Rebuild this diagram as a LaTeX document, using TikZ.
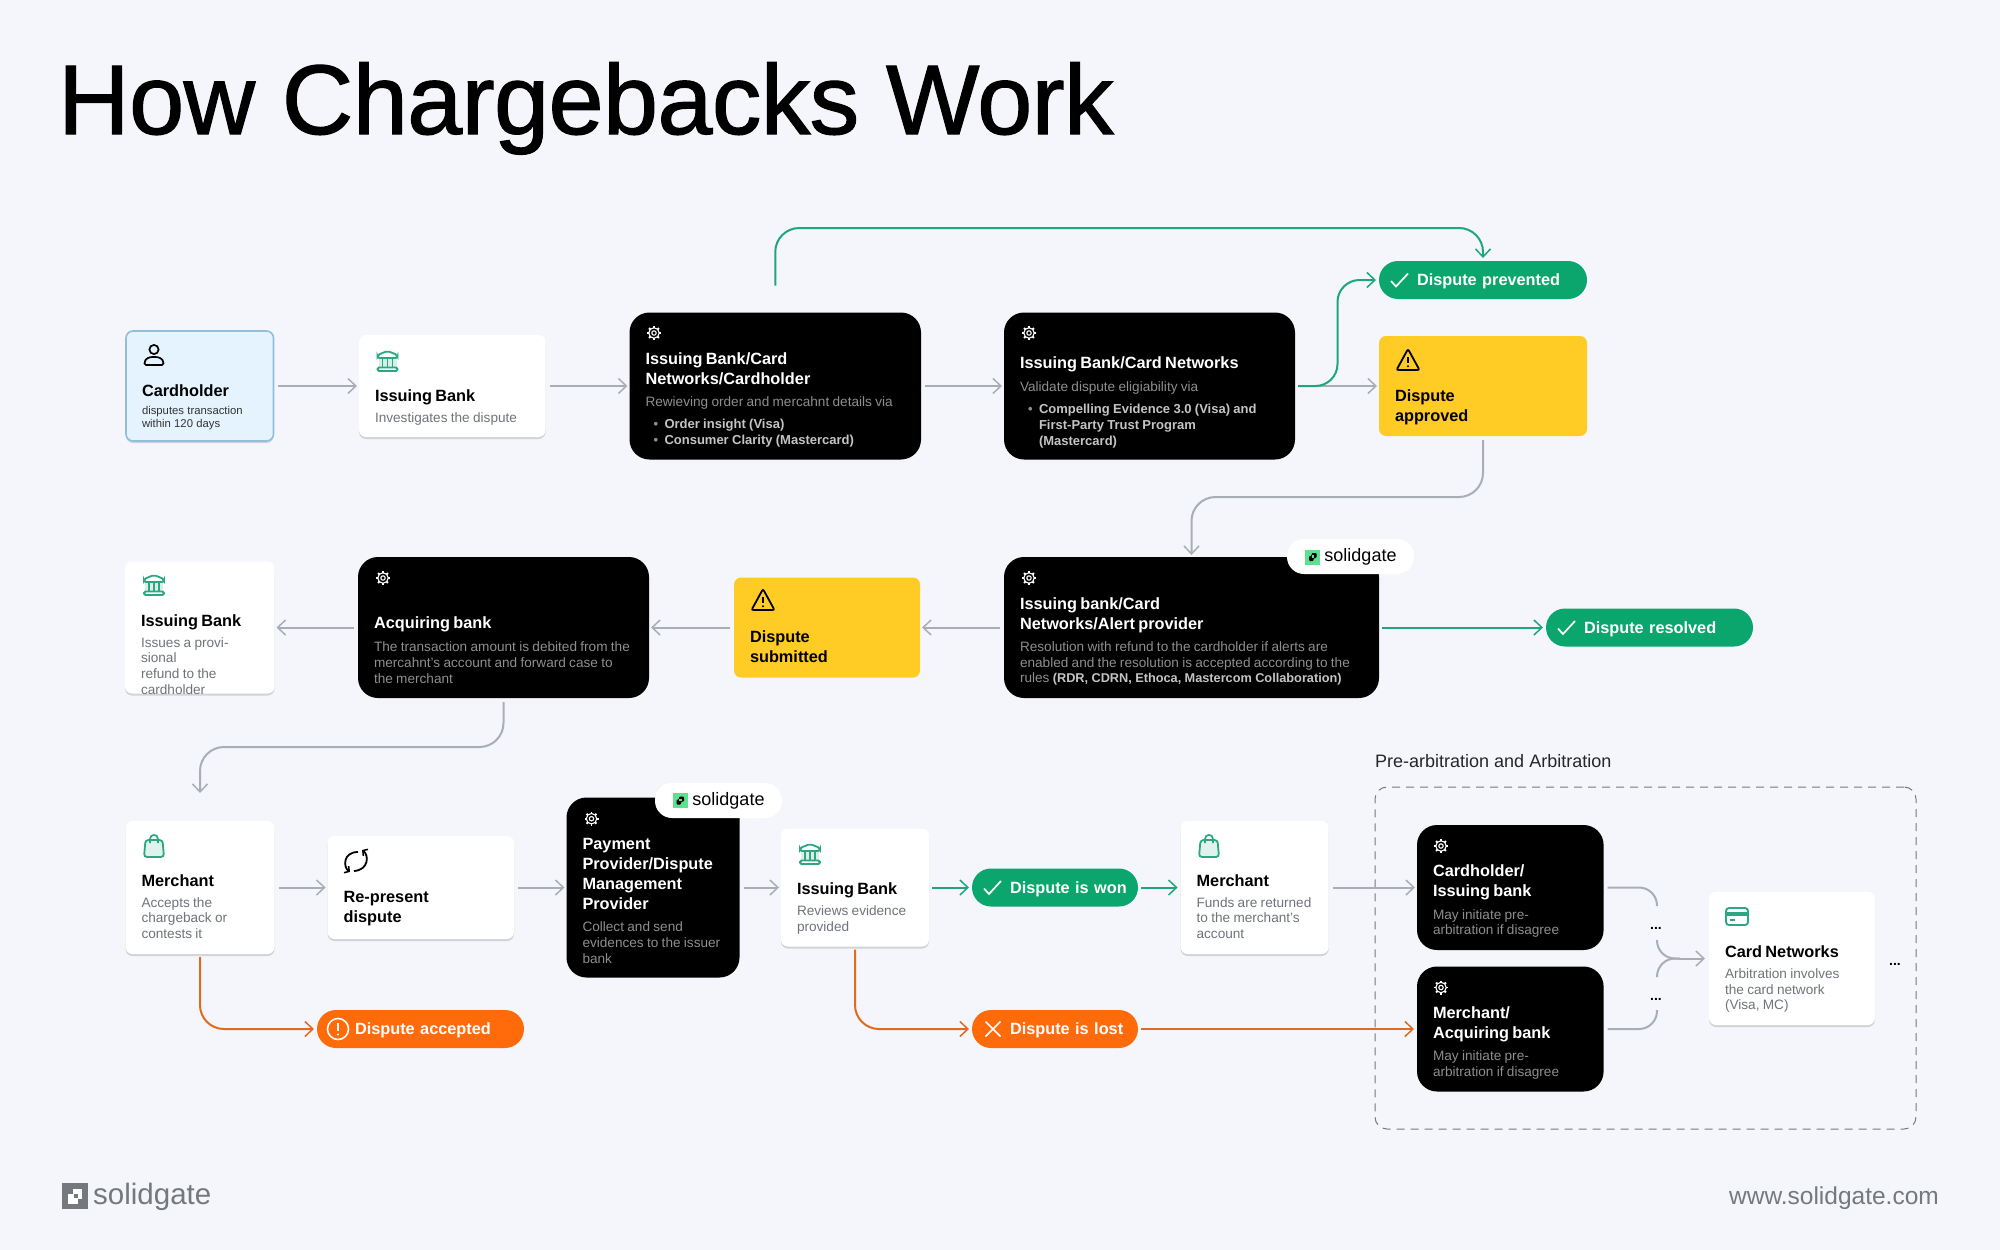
\documentclass[tikz,border=0pt]{standalone}
\usepackage{fontspec}
\setmainfont{Liberation Sans}
\newfontfamily\headfont[FakeBold=1.2,LetterSpace=-0.6]{Liberation Sans}
\usetikzlibrary{arrows.meta,shadows}

\definecolor{pagebg}{HTML}{F4F6FB}
\definecolor{linegray}{HTML}{A9AEB6}
\definecolor{linegreen}{HTML}{1FA67C}
\definecolor{lineorange}{HTML}{E26A1F}
\definecolor{pillgreen}{HTML}{0AA66E}
\definecolor{pillorange}{HTML}{FF6A0B}
\definecolor{warnyellow}{HTML}{FFCB25}
\definecolor{paleblue}{HTML}{E4F3FD}
\definecolor{edgeblue}{HTML}{93BEDA}
\definecolor{icongreen}{HTML}{2BA882}
\definecolor{logogreen}{HTML}{5FE08F}
\definecolor{footgray}{HTML}{75787D}
\definecolor{bullettext}{HTML}{C4C4C4}
\definecolor{descdark}{HTML}{6F747B}
\definecolor{desclight}{HTML}{8E8E8E}

\newcommand{\ttlfont}{\fontsize{16.3}{20}\selectfont\bfseries}
\newcommand{\descfont}{\fontsize{13.6}{15.6}\selectfont\mdseries\color{\desccolor}}
% first title baseline below the top, extra gap before the description
\newcommand{\cardtext}[4]{\vbox to \cardh pt{\kern\dimexpr #1pt-20pt\relax\hbox{}\ttlfont #3\par\kern #2pt\relax\descfont #4\par\vss}}
\newcommand{\bul}[1]{{\fontsize{13}{15.8}\selectfont\bfseries\noindent\makebox[19pt][l]{\hspace*{8pt}\textbullet}\color{bullettext}#1\par}}

\tikzset{
  cardsize/.style 2 args={minimum width=#1pt,minimum height=#2pt,text width=#1pt-32pt,/utils/exec={\def\cardh{#2}}},
  basecard/.style={align=left,inner xsep=16pt,inner ysep=0pt,outer sep=0pt},
  whitecard/.style={basecard,fill=white,rounded corners=7pt,text=black,drop shadow={shadow xshift=0pt,shadow yshift=-2pt,fill=black,opacity=.14},/utils/exec={\def\desccolor{descdark}}},
  blackcard/.style={basecard,fill=black,rounded corners=20pt,text=white,/utils/exec={\def\desccolor{desclight}}},
  yellowcard/.style={basecard,fill=warnyellow,rounded corners=7pt,text=black,/utils/exec={\def\desccolor{descdark}}},
  bluecard/.style={whitecard,fill=paleblue,draw=edgeblue,line width=1.6pt},
  pill/.style={minimum height=38pt,minimum width=#1pt,text width=#1pt-20pt,text height=15.4pt,text depth=4pt,align=left,inner xsep=10pt,inner ysep=0pt,outer sep=0pt,rounded corners=19pt,text=white,font=\fontsize{16.3}{20}\selectfont\bfseries,execute at begin node={\hspace*{28pt}}},
  badge/.style={fill=white,rounded corners=17pt,minimum width=127pt,minimum height=35pt,inner sep=0pt,outer sep=0pt,font=\fontsize{18}{20}\selectfont,text=black},
  graylink/.style={->,draw=linegray,line width=2pt,shorten <=4pt,shorten >=2pt},
  greenlink/.style={->,draw=linegreen,line width=2pt,shorten <=3pt,shorten >=3pt},
  orangelink/.style={->,draw=lineorange,line width=2pt,shorten <=3pt,shorten >=3pt},
  plainlink/.style={draw=linegray,line width=2pt},
  dotsnode/.style={inner sep=0pt,font=\fontsize{14}{14}\selectfont\bfseries},
  pics/gearicon/.style={code={
    \draw[white,line width=1.1pt] (0,0) circle (2.2) (0,0) circle (5.2);
    \foreach \a in {0,45,...,315} {\draw[white,line width=1.9pt] (\a:5.2) -- (\a:7);}
  }},
  pics/bankicon/.style={code={
    \fill[icongreen,opacity=.18] (-9,-3) rectangle (9,7);
    \draw[icongreen,line width=1.8pt,rounded corners=2pt] (-10,-3) -- (-10,-6) -- (0,-10) -- (10,-6) -- (10,-3) -- cycle;
    \draw[icongreen,line width=1.8pt] (-5,-2) -- (-5,6) (0,-2) -- (0,6) (5,-2) -- (5,6);
    \draw[icongreen,line width=1.8pt,rounded corners=1.5pt] (-10,6.5) rectangle (10,10);
  }},
  pics/personicon/.style={code={
    \draw[black,line width=1.7pt] (0,-5.5) circle (4.6);
    \draw[black,line width=1.7pt,rounded corners=1.5pt] (-9.5,10) -- (9.5,10) .. controls (9.5,3) and (4,2) .. (0,2) .. controls (-4,2) and (-9.5,3) .. (-9.5,10) -- cycle;
  }},
  pics/warnicon/.style={code={
    \draw[black,line width=1.8pt,rounded corners=2pt] (0,-11) -- (11.5,10) -- (-11.5,10) -- cycle;
    \draw[black,line width=1.6pt] (0,-3) -- (0,3);
    \fill[black] (0,6.3) circle (1.1);
  }},
  pics/bagicon/.style={code={
    \draw[icongreen,fill=icongreen!15,line width=1.8pt,rounded corners=3pt] (-8.5,-6) -- (8.5,-6) -- (10,11) -- (-10,11) -- cycle;
    \draw[icongreen,line width=1.7pt] (-4,-3) -- (-4,-7) .. controls (-4,-12.5) and (4,-12.5) .. (4,-7) -- (4,-3);
  }},
  pics/refreshicon/.style={code={
    \draw[-{Straight Barb[length=3.5pt,width=8pt,line width=1.5pt]},black,line width=1.8pt] (2,-9) .. controls (-13,-9) and (-13,6) .. (-6,11);
    \draw[-{Straight Barb[length=3.5pt,width=8pt,line width=1.5pt]},black,line width=1.8pt] (-2,10) .. controls (13,9) and (13,-6) .. (6,-11);
  }},
  pics/creditcardicon/.style={code={
    \draw[icongreen,line width=1.9pt,rounded corners=3pt] (-11,-8.5) rectangle (11,8.5);
    \fill[icongreen] (-11,-4.5) rectangle (11,-1);
    \draw[icongreen,line width=1.8pt] (-7,3.5) -- (-2,3.5);
  }},
  pics/checkmark/.style={code={
    \draw[white,line width=1.7pt] (-9,1) -- (-4,6.5) -- (8,-6.5);
  }},
  pics/crossmark/.style={code={
    \draw[white,line width=1.7pt] (-7.5,-7.5) -- (7.5,7.5) (-7.5,7.5) -- (7.5,-7.5);
  }},
  pics/alerticon/.style={code={
    \draw[white,line width=1.6pt] (0,0) circle (10.5);
    \draw[white,line width=1.8pt] (0,-6) -- (0,2);
    \fill[white] (0,5.5) circle (1.2);
  }},
  pics/logomark/.style={code={
    \fill[logogreen] (-7.5,-7.5) rectangle (7.5,7.5);
    \fill[black,rounded corners=1pt] (-3.5,-1) -- (-1,-1) -- (-1,-4) -- (4,-4) -- (4,1) -- (1,1) -- (1,4) -- (-3.5,4) -- cycle;
    \fill[logogreen] (-.8,-1.8) rectangle (1.8,.8);
  }},
  pics/footmark/.style={code={
    \fill[footgray] (-13,-13) rectangle (13,13);
    \fill[white] (-7,-2) rectangle (3,8);
    \fill[white] (-2,-7) rectangle (7,3);
    \fill[footgray] (-1.5,-2.5) rectangle (3,2);
  }},
}

\begin{document}
\begin{tikzpicture}[x=1pt,y=-1pt,>={Straight Barb[length=8pt,width=15pt,line width=1.5pt]}]
  \useasboundingbox (0,0) rectangle (2000,1250);
  \fill[pagebg] (0,0) rectangle (2000,1250);
  \node[anchor=base west,inner sep=0pt,font=\headfont\fontsize{99}{110}\selectfont] (maintitle) at (58,134) {How Chargebacks Work};

  % group box
  \node[draw=footgray,dashed,dash pattern=on 8pt off 6pt,line width=1pt,rounded corners=12pt,minimum width=541pt,minimum height=342pt] (arbbox) at (1645.5,958) {};
  \node[anchor=west,inner sep=0pt,text=black!85,font=\fontsize{18}{20}\selectfont] (arblabel) at (1375,761) {Pre-arbitration and Arbitration};

  % first row
  \node[bluecard,cardsize={147.5}{110}] (cardholder) at (199.75,386) {\cardtext{65}{5.6}{Cardholder}{\fontsize{11.3}{12.7}\selectfont\color{black!80}disputes transaction\\within 120 days}};
  \node[whitecard,cardsize={186.5}{102}] (issuingA) at (452.25,386) {\cardtext{66.7}{5.4}{Issuing Bank}{Investigates the dispute}};
  \node[blackcard,cardsize={291.5}{147}] (reviewbox) at (775.25,386) {\cardtext{52}{6.8}{Issuing Bank/Card\\Networks/Cardholder}{Rewieving order and mercahnt details via\par\kern6pt\bul{Order insight (Visa)}\bul{Consumer Clarity (Mastercard)}}};
  \node[blackcard,cardsize={291}{147}] (validbox) at (1149.5,386) {\cardtext{55.8}{8}{Issuing Bank/Card Networks}{Validate dispute eligiability via\par\kern6pt\bul{Compelling Evidence 3.0 (Visa) and\\\hspace*{19pt}First-Party Trust Program\\\hspace*{19pt}(Mastercard)}}};
  \node[pill=208,fill=pillgreen] (prevented) at (1483,280) {Dispute prevented};
  \node[yellowcard,cardsize={208}{100}] (approved) at (1483,386) {\cardtext{65.7}{0}{Dispute\\approved}{}};

  % second row
  \node[whitecard,cardsize={149.5}{132}] (issuingB) at (199.75,627.5) {\cardtext{64.7}{5.4}{Issuing Bank}{Issues a provisional\\refund to the\\cardholder}};
  \node[blackcard,cardsize={291}{141}] (acquirer) at (503.5,627.5) {\cardtext{71.7}{7.5}{Acquiring bank}{The transaction amount is debited from the\\mercahnt's account and forward case to\\the merchant}};
  \node[yellowcard,cardsize={186}{100}] (submitted) at (827,627.5) {\cardtext{64.7}{0}{Dispute\\submitted}{}};
  \node[blackcard,cardsize={375}{141}] (alertbox) at (1191.5,627.5) {\cardtext{52}{7}{Issuing bank/Card\\Networks/Alert provider}{Resolution with refund to the cardholder if alerts are\\enabled and the resolution is accepted according to the\\rules {\color{bullettext}\bfseries\fontsize{12.75}{15.6}\selectfont(RDR, CDRN, Ethoca, Mastercom Collaboration)}}};
  \node[pill=207,fill=pillgreen] (resolved) at (1649.5,627.5) {Dispute resolved};
  \node[badge] (badgeA) at (1350.5,556.5) {\hspace*{20pt}solidgate};

  % third row
  \node[whitecard,cardsize={149}{133}] (merchantA) at (200,887.5) {\cardtext{65}{5.4}{Merchant}{Accepts the\\chargeback or\\contests it}};
  \node[whitecard,cardsize={186.4}{103}] (represent) at (420.8,887.5) {\cardtext{66.7}{0}{Re-present\\dispute}{}};
  \node[blackcard,cardsize={173}{180}] (provider) at (653,887.5) {\cardtext{51.7}{7}{Payment\\Provider/Dispute\\Management\\Provider}{Collect and send\\evidences to the issuer\\bank}};
  \node[badge] (badgeB) at (718.5,800.5) {\hspace*{20pt}solidgate};
  \node[whitecard,cardsize={148}{118}] (issuingC) at (855,887.5) {\cardtext{66.3}{5}{Issuing Bank}{Reviews evidence\\provided}};
  \node[pill=166,fill=pillgreen] (won) at (1055,887.5) {Dispute is won};
  \node[whitecard,cardsize={148}{133}] (merchantB) at (1254.6,887.5) {\cardtext{65}{5.4}{Merchant}{Funds are returned\\to the merchant's\\account}};
  \node[blackcard,cardsize={186.6}{125}] (arbholder) at (1510.3,887.5) {\cardtext{51.7}{7}{Cardholder/\\Issuing bank}{May initiate pre-\\arbitration if disagree}};
  \node[blackcard,cardsize={186.6}{125}] (arbmerchant) at (1510.3,1029) {\cardtext{51.7}{7}{Merchant/\\Acquiring bank}{May initiate pre-\\arbitration if disagree}};
  \node[whitecard,cardsize={166}{133}] (cardnets) at (1792,958.5) {\cardtext{65.7}{5.4}{Card Networks}{Arbitration involves\\the card network\\(Visa, MC)}};

  % fourth row
  \node[pill=207,fill=pillorange] (accepted) at (420.5,1029) {Dispute accepted};
  \node[pill=166,fill=pillorange] (lost) at (1055,1029) {Dispute is lost};

  % dots
  \node[dotsnode] (dotsup) at (1656,928) {...};
  \node[dotsnode] (dotsdown) at (1656,999) {...};
  \node[dotsnode] (dotsright) at (1895,964) {...};

  % icons
  \pic at (154,355) {personicon};
  \pic at (387.5,361) {bankicon};
  \pic at (654,333) {gearicon};
  \pic at (1029,333) {gearicon};
  \pic at (1408,360) {warnicon};
  \pic at (1029,578) {gearicon};
  \pic at (763,600) {warnicon};
  \pic at (383,578) {gearicon};
  \pic at (154,585) {bankicon};
  \pic at (154,846) {bagicon};
  \pic at (356,861) {refreshicon};
  \pic at (591.5,818.7) {gearicon};
  \pic at (810,854) {bankicon};
  \pic at (1209,846) {bagicon};
  \pic at (1441,846) {gearicon};
  \pic at (1441,987.5) {gearicon};
  \pic at (1737,916.5) {creditcardicon};
  \pic at (1400,280) {checkmark};
  \pic at (1567,627.5) {checkmark};
  \pic at (338,1029) {alerticon};
  \pic at (993,887.5) {checkmark};
  \pic at (993,1029) {crossmark};
  \pic at (1312.5,557) {logomark};
  \pic at (680,800.5) {logomark};
  \pic at (75,1196) {footmark};

  % footer
  \node[anchor=base west,inner sep=0pt,text=footgray,font=\fontsize{29.5}{32}\selectfont] (footlogo) at (93,1204) {solidgate};
  \node[anchor=base east,inner sep=0pt,text=footgray,font=\fontsize{24.5}{28}\selectfont] (footurl) at (1939,1204) {www.solidgate.com};

  % straight links
  \foreach \a/\b in {cardholder/issuingA,issuingA/reviewbox,reviewbox/validbox,validbox/approved,merchantA/represent,represent/provider,provider/issuingC,merchantB/arbholder} {
    \draw[graylink] (\a.east) -- (\b.west);
  }
  \foreach \a/\b in {alertbox/submitted,submitted/acquirer,acquirer/issuingB} {
    \draw[graylink] (\a.west) -- (\b.east);
  }
  \draw[greenlink] (alertbox.east) -- (resolved.west);
  \draw[greenlink] (issuingC.east) -- (won.west);
  \draw[greenlink] (won.east) -- (merchantB.west);
  \draw[orangelink] (lost.east) -- (arbmerchant.west);

  % bent links
  \coordinate (topbend) at (1100,228);
  \draw[greenlink,rounded corners=24pt,shorten <=27pt] (reviewbox.north) |- (topbend) -| (prevented.north);
  \coordinate (upbend) at (1337.5,333);
  \draw[greenlink,rounded corners=22pt] (validbox.east) -| (upbend) |- (prevented.west);
  \coordinate (approvedbend) at (1340,497);
  \draw[graylink,rounded corners=24pt] (approved.south) |- (approvedbend) -| (alertbox.north);
  \coordinate (acquirerbend) at (350,747);
  \draw[graylink,rounded corners=24pt,shorten >=28pt] (acquirer.south) |- (acquirerbend) -| (merchantA.north);
  \draw[orangelink,rounded corners=24pt] (merchantA.south) |- (accepted.west);
  \draw[orangelink,rounded corners=24pt] (issuingC.south) |- (lost.west);

  % merging links
  \coordinate (upend) at (1657,906);
  \coordinate (upstart) at (1657,940);
  \coordinate (lowstart) at (1657,977);
  \coordinate (lowend) at (1657,1010);
  \coordinate (mergept) at (1680,958.5);
  \draw[plainlink,rounded corners=18pt,shorten <=4pt] (arbholder.east) -| (upend);
  \draw[plainlink,rounded corners=18pt,shorten <=4pt] (arbmerchant.east) -| (lowend);
  \draw[plainlink,rounded corners=18pt] (upstart) |- (mergept);
  \draw[plainlink,rounded corners=18pt] (lowstart) |- (mergept);
  \draw[graylink,shorten <=0pt,shorten >=4pt] (mergept) -- (cardnets.west);
\end{tikzpicture}
\end{document}
